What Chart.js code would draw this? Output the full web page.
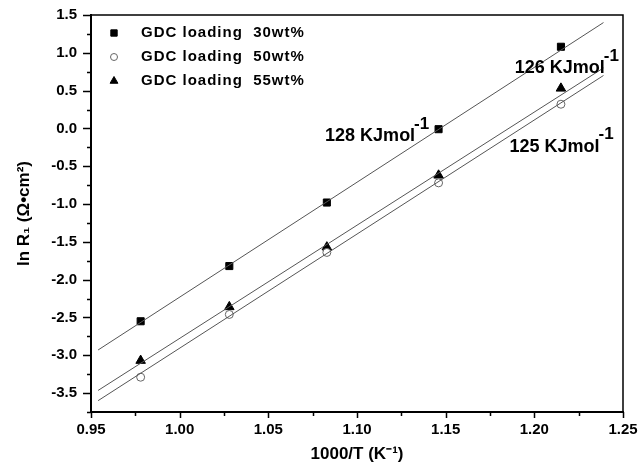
<!DOCTYPE html>
<html>
<head>
<meta charset="utf-8">
<script src="https://cdn.jsdelivr.net/npm/chart.js@4.4.0/dist/chart.umd.min.js"></script>
<style>
  html, body { margin: 0; padding: 0; background: #fff; }
  #wrap { width: 641px; height: 468px; }
</style>
</head>
<body>
<div id="wrap"><canvas id="c"></canvas></div>
<script>
// measured points (1000/T vs ln R1)
var xValues = [0.978, 1.028, 1.083, 1.146, 1.215];
var lnR30 = [-2.55, -1.82, -0.98, -0.01, 1.08];
var lnR50 = [-3.29, -2.46, -1.64, -0.72, 0.32];
var lnR55 = [-3.07, -2.36, -1.57, -0.62, 0.53];
var seriesLabels = ['GDC loading  30wt%', 'GDC loading  50wt%', 'GDC loading  55wt%'];

var fitX = [0.954, 1.239];
var fit30 = [-2.93, 1.40];
var fit50 = [-3.60, 0.70];
var fit55 = [-3.465, 0.80];

// activation energy labels and where they sit (data coords)
var energyLabels = ['128 KJmol', '125 KJmol', '126 KJmol'];
var energyX = [1.082, 1.186, 1.189];
var energyY = [-0.105, -0.24, 0.80];

var FONT = "'Liberation Sans', Arial, sans-serif";

function pts(xs, ys){
  return xs.map(function(x, i){ return {x: x, y: ys[i]}; });
}

function markerSet(label, ys, style, radius, fill, stroke){
  return {
    label: label,
    data: pts(xValues, ys),
    showLine: false,
    pointStyle: style,
    pointRadius: radius,
    pointHoverRadius: radius,
    pointBackgroundColor: fill,
    pointBorderColor: stroke,
    pointBorderWidth: 1
  };
}

function fitSet(ys){
  return {
    label: '',
    data: pts(fitX, ys),
    showLine: true,
    borderColor: '#555',
    borderWidth: 1,
    pointRadius: 0,
    fill: false
  };
}

var datasets = [
  fitSet(fit30), fitSet(fit50), fitSet(fit55),
  markerSet(seriesLabels[0], lnR30, 'rect', 5, '#000', '#000'),
  markerSet(seriesLabels[1], lnR50, 'circle', 4, '#fff', '#666'),
  markerSet(seriesLabels[2], lnR55, 'triangle', 5.5, '#000', '#000')
];

// extra drawing: frame, ticks, legend, energy labels
var decorPlugin = {
  id: 'decor',
  afterDraw: function(chart){
    var ctx = chart.ctx, a = chart.chartArea;
    var xs = chart.scales.x, ys = chart.scales.y;
    ctx.save();
    ctx.strokeStyle = '#000';

    // top and right frame
    ctx.lineWidth = 1.5;
    ctx.beginPath();
    ctx.moveTo(a.left, a.top);
    ctx.lineTo(a.right, a.top);
    ctx.lineTo(a.right, a.bottom);
    ctx.stroke();

    // ticks, outward
    ctx.lineWidth = 1.5;
    ctx.beginPath();
    xs.ticks.forEach(function(t){
      var major = Math.round(t.value * 1000) % 50 === 0;
      var px = Math.round(xs.getPixelForValue(t.value)) + 0.5;
      ctx.moveTo(px, a.bottom);
      ctx.lineTo(px, a.bottom + (major ? 6 : 4));
    });
    ys.ticks.forEach(function(t){
      var major = Math.round(t.value * 100) % 50 === 0;
      var py = Math.round(ys.getPixelForValue(t.value)) + 0.5;
      ctx.moveTo(a.left, py);
      ctx.lineTo(a.left - (major ? 8 : 4), py);
    });
    ctx.stroke();

    // legend
    var marks = chart.data.datasets.slice(3);
    marks.forEach(function(ds, i){
      var y = 33 + i * 24;
      ctx.fillStyle = ds.pointBackgroundColor;
      ctx.strokeStyle = ds.pointBorderColor;
      ctx.lineWidth = 1;
      Chart.helpers.drawPoint(ctx, {
        pointStyle: ds.pointStyle,
        radius: ds.pointStyle == 'circle' ? 3.5 : 4.5,
        borderWidth: 1,
        rotation: 0
      }, 114, y);
      ctx.fillStyle = '#000';
      ctx.font = 'bold 15px ' + FONT;
      ctx.textBaseline = 'middle';
      ctx.textAlign = 'left';
      ctx.letterSpacing = '1px';
      ctx.fillText(ds.label, 141, y);
      ctx.letterSpacing = '0px';
    });

    // energy labels with superscript -1
    energyLabels.forEach(function(txt, i){
      var px = xs.getPixelForValue(energyX[i]);
      var py = ys.getPixelForValue(energyY[i]);
      ctx.fillStyle = '#000';
      ctx.textBaseline = 'middle';
      ctx.textAlign = 'left';
      ctx.font = 'bold 18px ' + FONT;
      ctx.fillText(txt, px, py);
      var w = ctx.measureText(txt).width;
      ctx.font = 'bold 17px ' + FONT;
      ctx.fillText('-1', px + w - 1, py - 12);
    });

    ctx.restore();
  }
};

var tickFont = {family: FONT, size: 15, weight: 'bold'};

new Chart(document.getElementById('c'), {
  type: 'scatter',
  data: {datasets: datasets},
  options: {
    responsive: true,
    maintainAspectRatio: false,
    animation: false,
    layout: {padding: {left: 0, top: 15, right: 18, bottom: 0}},
    plugins: {legend: {display: false}, tooltip: {enabled: false}},
    scales: {
      x: {
        type: 'linear',
        min: 0.95, max: 1.25,
        grid: {display: false, drawTicks: false},
        border: {display: true, color: '#000', width: 2},
        ticks: {
          stepSize: 0.025, autoSkip: false, maxRotation: 0, padding: 9,
          color: '#000', font: tickFont,
          callback: function(v){ return Math.round(v * 1000) % 50 === 0 ? v.toFixed(2) : ''; }
        },
        title: {display: true, text: '1000/T (K⁻¹)', color: '#000', font: {family: FONT, size: 17, weight: 'bold'}, padding: {top: 0, bottom: 3}},
        afterFit: function(s){ s.height = 56; s.paddingLeft = 0; s.paddingRight = 0; }
      },
      y: {
        min: -3.75, max: 1.5,
        grid: {display: false, drawTicks: false},
        border: {display: true, color: '#000', width: 2},
        ticks: {
          stepSize: 0.25, autoSkip: false, padding: 14,
          color: '#000', font: tickFont,
          callback: function(v){ return Math.round(v * 100) % 50 === 0 ? v.toFixed(1) : ''; }
        },
        title: {display: true, text: 'ln R₁ (Ω•cm²)', color: '#000', font: {family: FONT, size: 17, weight: 'bold'}, padding: {top: 14, bottom: 0}},
        afterFit: function(s){ s.width = 91; s.paddingTop = 0; s.paddingBottom = 0; }
      }
    }
  },
  plugins: [decorPlugin]
});
</script>
</body>
</html>
